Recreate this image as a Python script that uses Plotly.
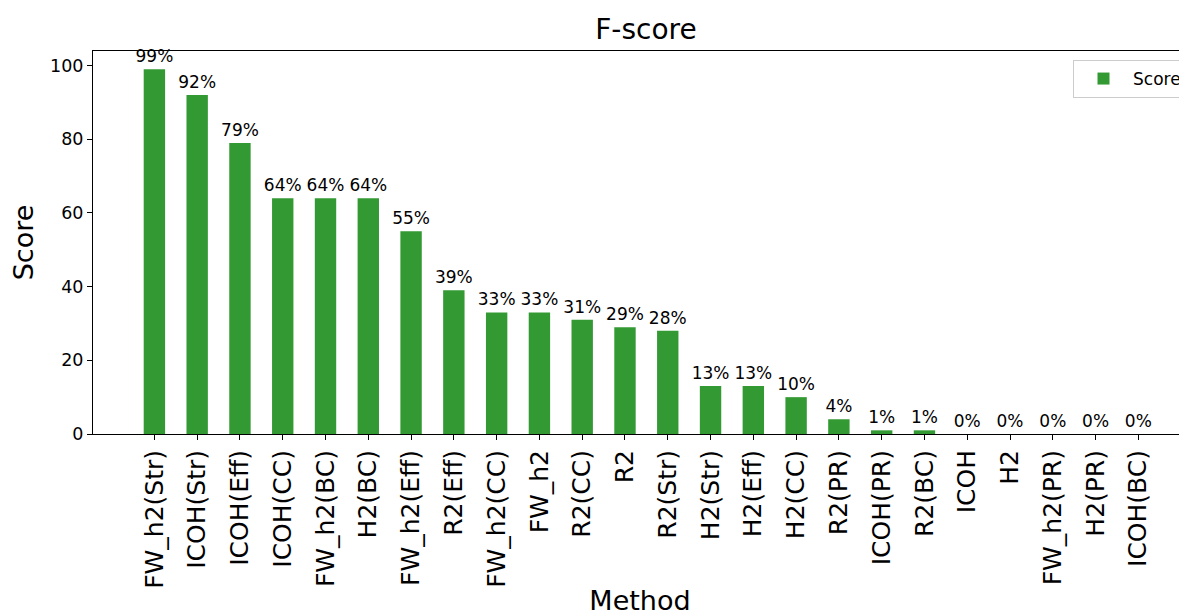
import plotly.graph_objects as go

methods = ["FW_h2(Str)", "ICOH(Str)", "ICOH(Eff)", "ICOH(CC)", "FW_h2(BC)", "H2(BC)",
           "FW_h2(Eff)", "R2(Eff)", "FW_h2(CC)", "FW_h2", "R2(CC)", "R2", "R2(Str)",
           "H2(Str)", "H2(Eff)", "H2(CC)", "R2(PR)", "ICOH(PR)", "R2(BC)", "ICOH", "H2",
           "FW_h2(PR)", "H2(PR)", "ICOH(BC)"]
scores = [99, 92, 79, 64, 64, 64, 55, 39, 33, 33, 31, 29, 28, 13, 13, 10, 4, 1, 1, 0, 0, 0, 0, 0]
y_ticks = [0, 20, 40, 60, 80, 100]

FONT = "DejaVu Sans"
x_pos = list(range(len(methods)))

# The page body adds an 8px offset; the figure is sized to fill the rest of the window.
OFF = 8
W, H = 1187 - OFF, 616 - OFF
L, R, T, B = 93 - OFF, 0, 51 - OFF, 616 - 434
PW, PH = W - L - R, H - T - B

fig = go.Figure()
fig.add_trace(go.Bar(
    x=x_pos, y=scores, width=0.5, name="Score",
    marker=dict(color="#339933", line=dict(width=0)),
    text=[f"{v}%" for v in scores], textposition="outside",
    textfont=dict(family=FONT, size=17, color="black"),
    constraintext="none", cliponaxis=False,
))

fig.update_layout(
    width=W, height=H,
    margin=dict(l=L, r=R, t=T, b=B, autoexpand=False),
    paper_bgcolor="white", plot_bgcolor="white",
    font=dict(family=FONT, color="black"),
    title=dict(text="F-score", x=(646 - OFF) / W, xanchor="center", xref="container",
               y=1 - (29 - OFF) / H, yanchor="middle", yref="container",
               font=dict(family=FONT, size=28, color="black")),
    showlegend=True,
    legend=dict(x=(1073 - 93) / PW, xanchor="left",
                y=(434 - 60) / PH, yanchor="top", itemwidth=49,
                bgcolor="white", bordercolor="#cccccc", borderwidth=1,
                font=dict(family=FONT, size=17, color="black")),
    bargap=0.5,
)
fig.update_xaxes(
    range=[-1.435, 24.137], tickmode="array", tickvals=x_pos, ticktext=methods,
    tickangle=-90, tickfont=dict(family=FONT, size=25, color="black"),
    ticks="outside", ticklen=5, tickcolor="black",
    showline=True, linecolor="black", linewidth=1, mirror=True,
    showgrid=False, zeroline=False,
    title=dict(text="Method", font=dict(family=FONT, size=27, color="black"), standoff=11),
)
fig.update_yaxes(
    range=[0, 103.95], tickmode="array", tickvals=y_ticks,
    tickfont=dict(family=FONT, size=17.5, color="black"),
    ticks="outside", ticklen=5, tickcolor="black",
    showline=True, linecolor="black", linewidth=1, mirror=False,
    showgrid=False, zeroline=False,
    title=dict(text="Score", font=dict(family=FONT, size=27, color="black"), standoff=9),
)

fig.write_html("out.html")
